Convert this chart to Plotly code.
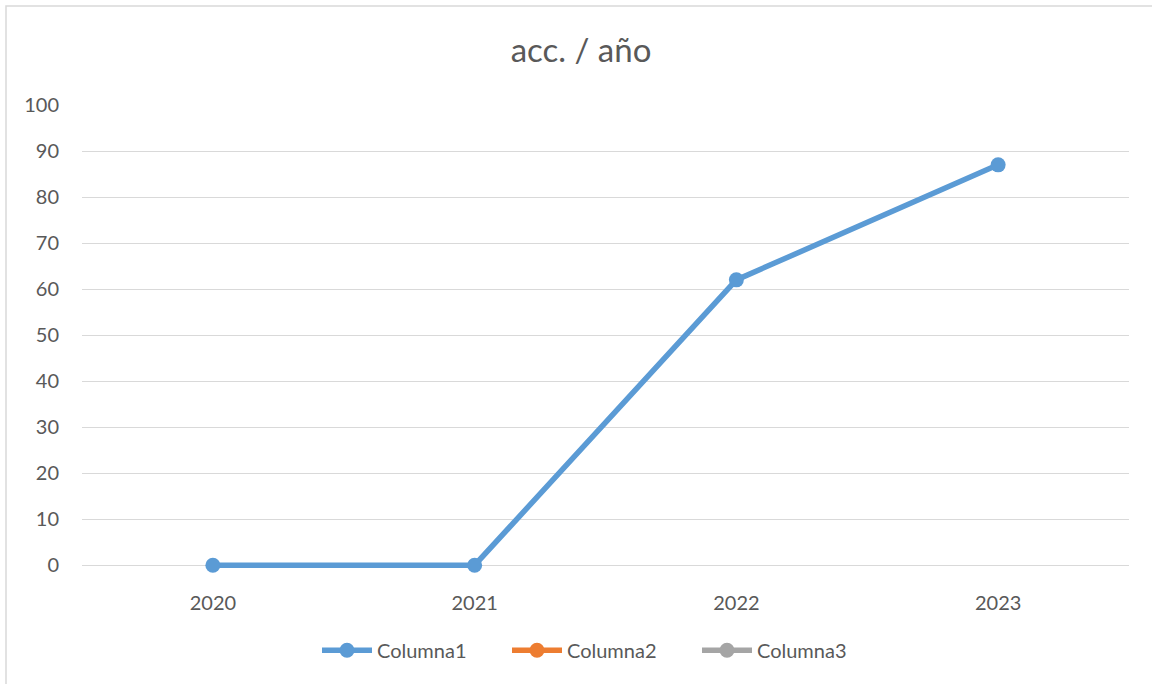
import plotly.graph_objects as go

years = ["2020", "2021", "2022", "2023"]
columna1 = [0, 0, 62, 87]
columna2 = [None, None, None, None]
columna3 = [None, None, None, None]
y_ticks = [0, 10, 20, 30, 40, 50, 60, 70, 80, 90, 100]

W, H = 1152, 684
# pixel geometry of the reference plot area
X_LEFT, X_RIGHT = 82, 1129
Y_TOP, Y_ZERO = 105, 565
PX_PER_UNIT = (Y_ZERO - Y_TOP) / 100.0
Y_MIN = -3  # small pad so the line on 0 is not clipped
Y_BOTTOM = Y_ZERO - Y_MIN * PX_PER_UNIT

L, R, T = X_LEFT, W - X_RIGHT, Y_TOP
B = H - Y_BOTTOM
pw, ph = W - L - R, H - T - B


def px(x):
    return (x - L) / pw


def py(y):
    return (H - B - y) / ph


FONT = "Lato, 'Open Sans', sans-serif"
TXT = "#595959"

fig = go.Figure()
for name, vals, col in [("Columna1", columna1, "#5B9BD5"),
                        ("Columna2", columna2, "#ED7D31"),
                        ("Columna3", columna3, "#A5A5A5")]:
    fig.add_trace(go.Scatter(x=years, y=vals, name=name, mode="lines+markers",
                             line=dict(color=col, width=5.5),
                             marker=dict(color=col, size=15),
                             cliponaxis=False))

fig.update_layout(
    width=W, height=H,
    margin=dict(l=L, r=R, t=T, b=B),
    paper_bgcolor="white", plot_bgcolor="white",
    font=dict(family=FONT, color=TXT, size=20),
    title=dict(text="acc. / año", x=581 / W, xanchor="center",
               y=1 - 50 / H, yanchor="middle",
               font=dict(size=33, color=TXT, family=FONT)),
    showlegend=True,
    legend=dict(orientation="h", x=px(317), xanchor="left",
                y=py(650), yanchor="middle",
                font=dict(size=20, color=TXT), itemwidth=50,
                entrywidth=125, entrywidthmode="pixels"),
    xaxis=dict(type="category", range=[-0.5, 3.5], showgrid=False,
               showline=False, zeroline=False, ticks="",
               ticklabelstandoff=int(round(24 - (Y_BOTTOM - Y_ZERO))),
               tickfont=dict(size=20, color=TXT)),
    yaxis=dict(range=[Y_MIN, 100], tickvals=y_ticks, showgrid=True,
               gridcolor="#D9D9D9", gridwidth=1.3, zeroline=False,
               showline=False, ticks="", ticklabelstandoff=22,
               tickfont=dict(size=20, color=TXT)),
    shapes=[dict(type="rect", xref="paper", yref="paper",
                 x0=px(6), x1=px(W + 10),
                 y0=py(H + 10), y1=py(6),
                 line=dict(color="#D9D9D9", width=1.5), layer="below")],
)

fig.write_html("out.html", config={"displayModeBar": False},
               post_script="document.body.style.margin='0';document.body.style.overflow='hidden';")
